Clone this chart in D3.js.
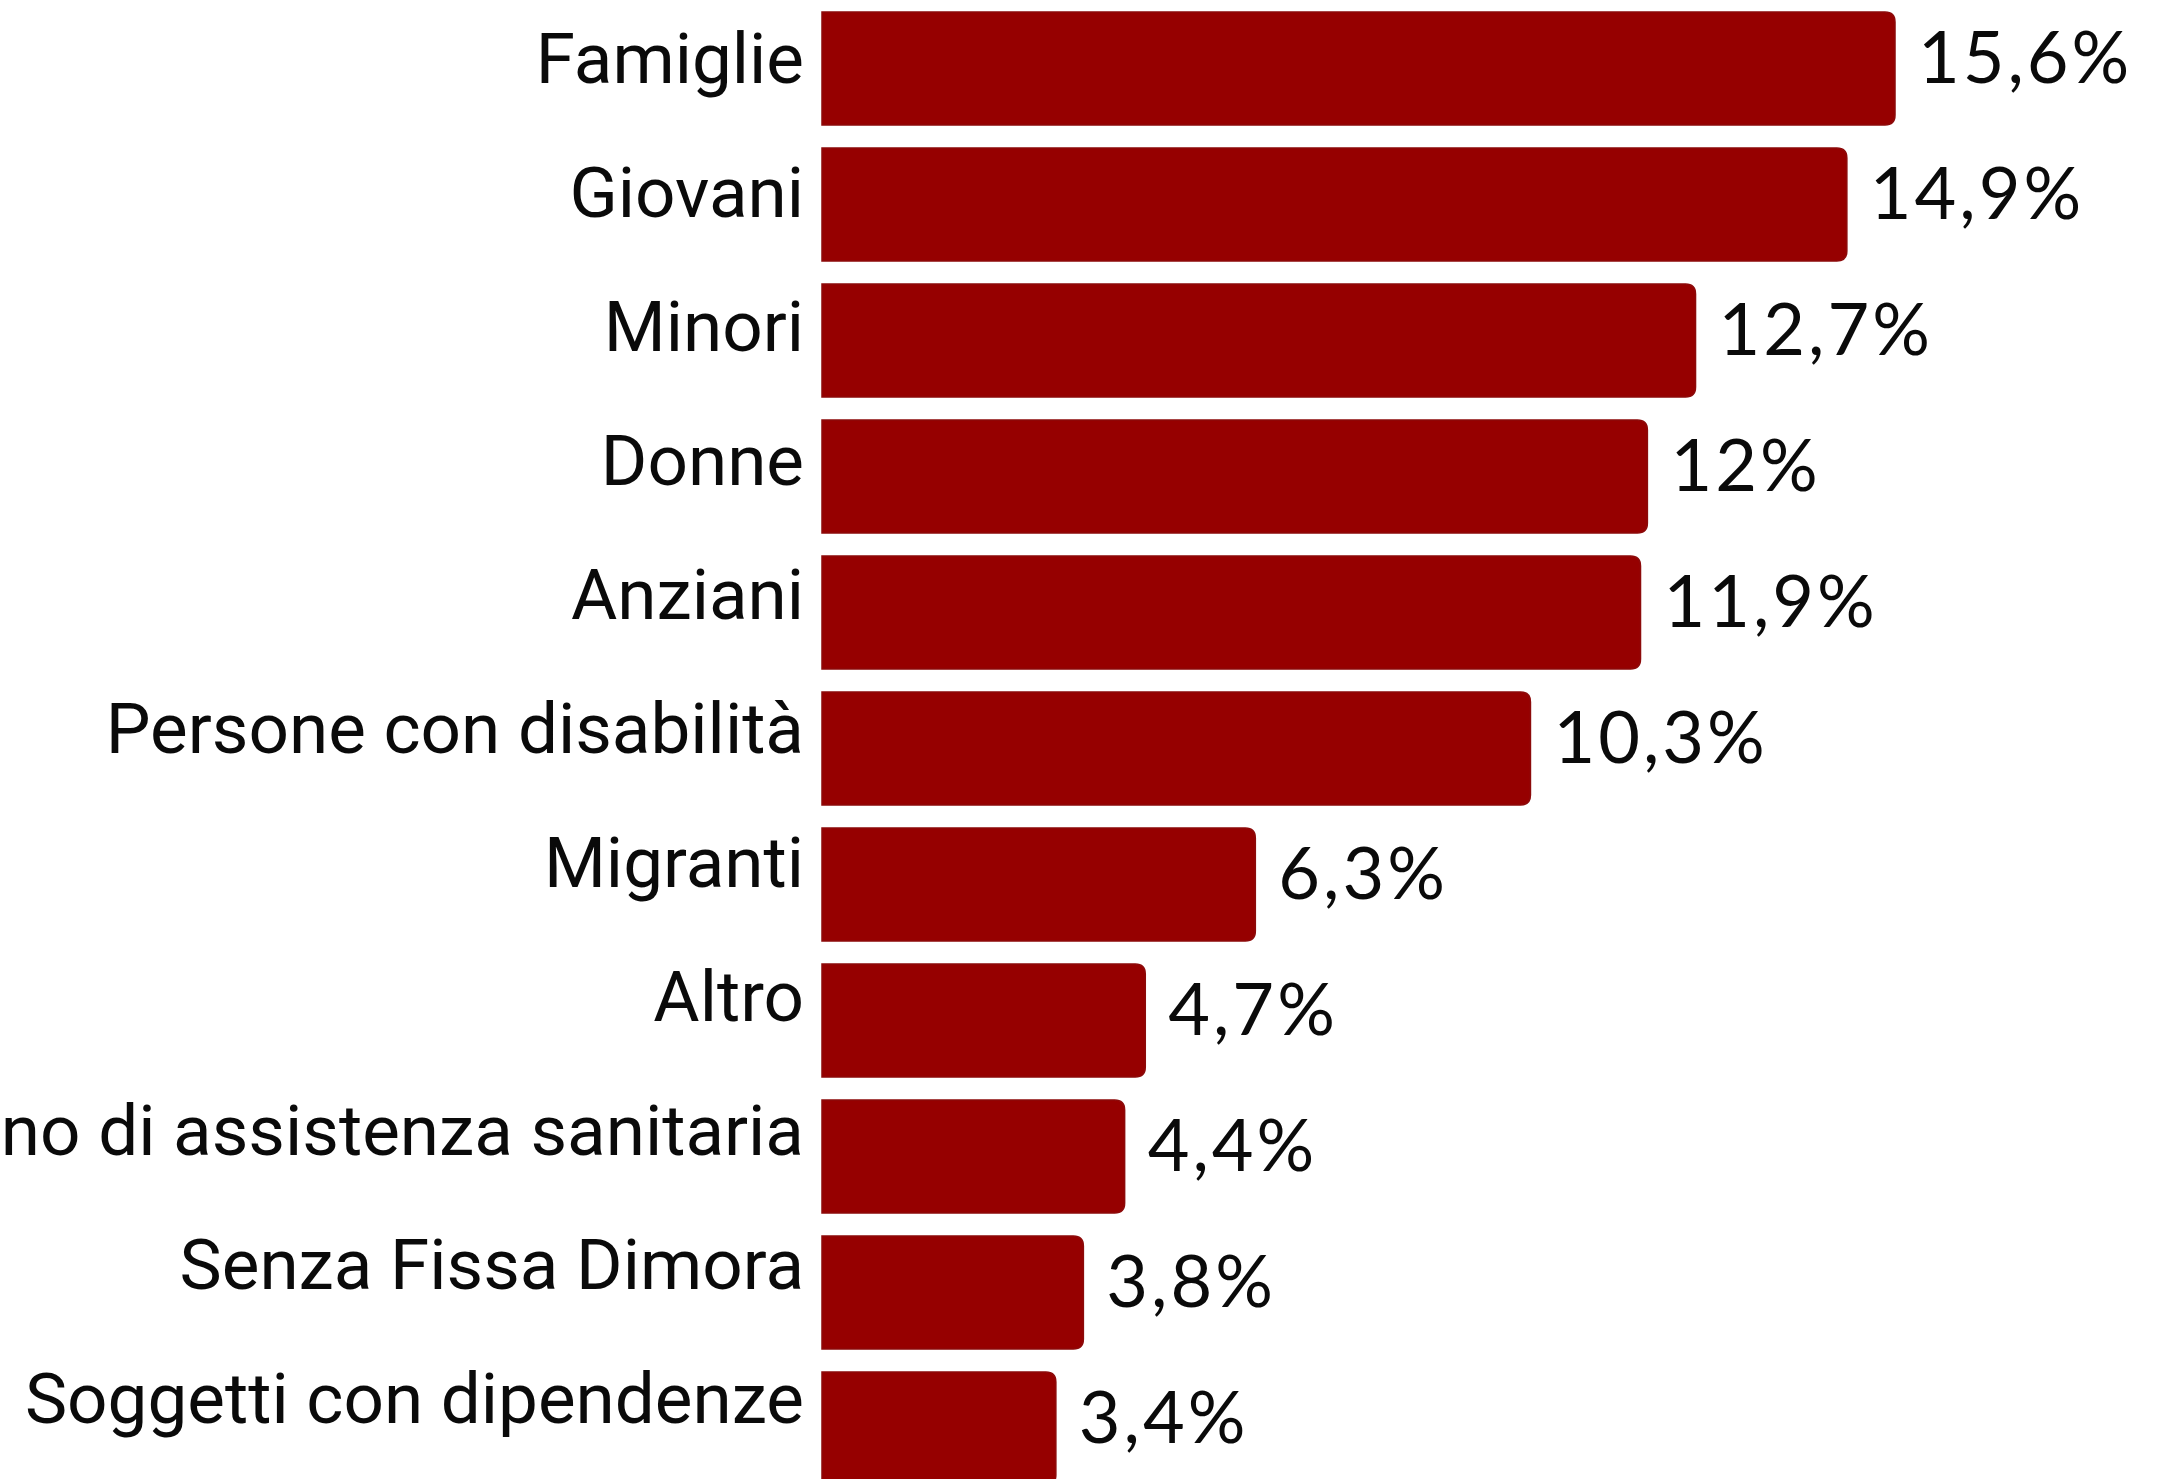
<!DOCTYPE html>
<html>
<head>
<meta charset="utf-8">
<script src="https://cdn.jsdelivr.net/npm/d3@7"></script>
<style>
  html, body { margin: 0; padding: 0; background: #fff; overflow: hidden; }
  #chart { width: 2170px; height: 1479px; }
</style>
</head>
<body>
<div id="chart"></div>
<script>
var categories = [
    "Famiglie",
    "Giovani",
    "Minori",
    "Donne",
    "Anziani",
    "Persone con disabilità",
    "Migranti",
    "Altro",
    "Persone che necessitano di assistenza sanitaria",
    "Senza Fissa Dimora",
    "Soggetti con dipendenze"
];
var values = [15.6, 14.9, 12.7, 12, 11.9, 10.3, 6.3, 4.7, 4.4, 3.8, 3.4];

var width = 2170;
var height = 1479;

var data = categories.map(function (c, i) {
    return { name: c, value: values[i] };
});

var it = d3.formatLocale({ decimal: ",", thousands: ".", grouping: [3], currency: ["", "€"] });
var fmt = it.format(".1~f");

var svg = d3.select('#chart')
    .append('svg')
    .attr('width', width)
    .attr('height', height);

var x_scale = d3.scaleLinear()
    .domain([0, 15.6])
    .range([822, 1895]);

var y_scale = d3.scaleBand()
    .domain(categories)
    .range([12, 12 + 136 * (categories.length - 0.169)])
    .paddingInner(0.169)
    .paddingOuter(0);

// label rows sit on a slightly tighter pitch than the bars
var label_scale = d3.scalePoint()
    .domain(categories)
    .range([83, 83 + 134 * (categories.length - 1)]);

var r = 10;
function barPath(d) {
    var x0 = x_scale(0), x1 = x_scale(d.value);
    var y0 = y_scale(d.name), y1 = y0 + y_scale.bandwidth();
    return 'M' + x0 + ',' + y0 +
        'H' + (x1 - r) +
        'Q' + x1 + ',' + y0 + ' ' + x1 + ',' + (y0 + r) +
        'V' + (y1 - r) +
        'Q' + x1 + ',' + y1 + ' ' + (x1 - r) + ',' + y1 +
        'H' + x0 + 'Z';
}

svg.selectAll('.bar')
    .data(data)
    .enter()
    .append('path')
    .attr('class', 'bar')
    .attr('d', barPath)
    .attr('fill', '#960000')
    .attr('stroke', '#8c0a0a')
    .attr('stroke-width', 1.5);

svg.selectAll('.cat')
    .data(data)
    .enter()
    .append('text')
    .attr('class', 'cat')
    .attr('x', x_scale(0) - 18)
    .attr('y', function (d) { return label_scale(d.name); })
    .attr('text-anchor', 'end')
    .attr('font-family', 'Roboto, "Noto Sans", sans-serif')
    .attr('font-size', 71)
    .attr('fill', '#0a0a0a')
    .text(function (d) { return d.name; });

svg.selectAll('.val')
    .data(data)
    .enter()
    .append('text')
    .attr('class', 'val')
    .attr('x', function (d) { return x_scale(d.value) + 23; })
    .attr('y', function (d) { return y_scale(d.name) + 71; })
    .attr('font-family', 'Lato, sans-serif')
    .attr('font-size', 72)
    .attr('letter-spacing', 3)
    .attr('fill', '#0a0a0a')
    .text(function (d) { return fmt(d.value) + '%'; });
</script>
</body>
</html>
